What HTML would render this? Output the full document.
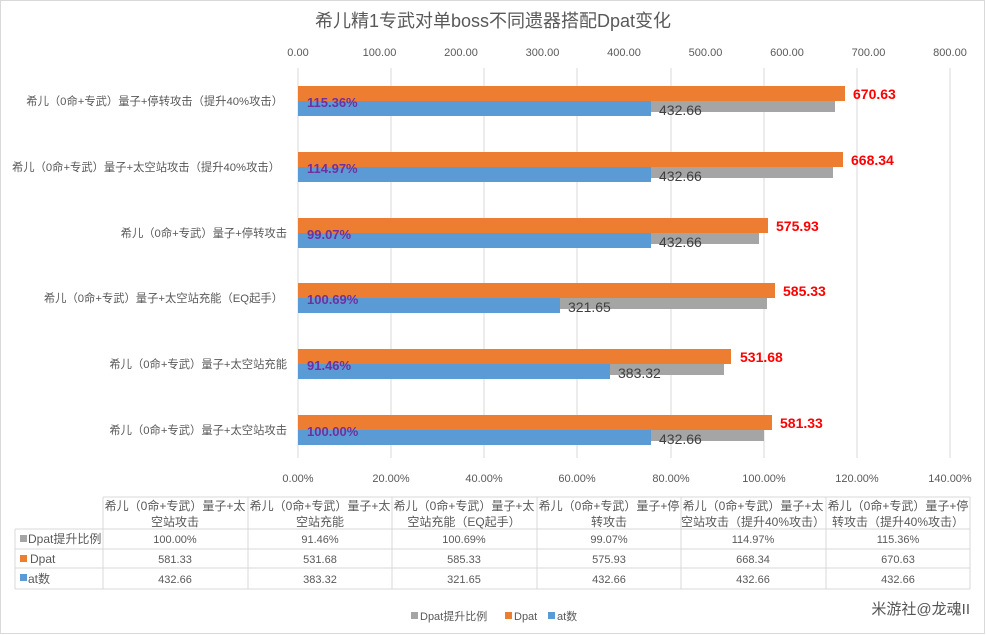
<!DOCTYPE html>
<html><head><meta charset="utf-8"><style>
body{margin:0;background:#fff;}
svg{display:block;font-family:"Liberation Sans","Noto Sans CJK SC",sans-serif;}
</style></head><body>
<svg width="986" height="635" xmlns="http://www.w3.org/2000/svg">
<rect x="0.5" y="0.5" width="984" height="633" fill="#fff" stroke="#d9d9d9"/>
<text x="493" y="27" text-anchor="middle" font-size="18" fill="#595959">希儿精1专武对单boss不同遗器搭配Dpat变化</text>
<g stroke="#d9d9d9" stroke-width="1">
<line x1="298" y1="68" x2="298" y2="458"/><line x1="391" y1="68" x2="391" y2="458"/><line x1="484" y1="68" x2="484" y2="458"/><line x1="577" y1="68" x2="577" y2="458"/><line x1="671" y1="68" x2="671" y2="458"/><line x1="764" y1="68" x2="764" y2="458"/><line x1="857" y1="68" x2="857" y2="458"/><line x1="950" y1="68" x2="950" y2="458"/>
</g>
<g font-size="11" fill="#595959" text-anchor="middle">
<text x="298" y="56">0.00</text><text x="379.5" y="56">100.00</text><text x="461" y="56">200.00</text><text x="542.5" y="56">300.00</text><text x="624" y="56">400.00</text><text x="705.5" y="56">500.00</text><text x="787" y="56">600.00</text><text x="868.5" y="56">700.00</text><text x="950" y="56">800.00</text>
<text x="298" y="482">0.00%</text><text x="391" y="482">20.00%</text><text x="484" y="482">40.00%</text><text x="577" y="482">60.00%</text><text x="671" y="482">80.00%</text><text x="764" y="482">100.00%</text><text x="857" y="482">120.00%</text><text x="950" y="482">140.00%</text>
</g>
<g>
<g transform="translate(0,0)">
<rect x="298" y="101" width="537" height="11" fill="#a5a5a5"/><rect x="298" y="86" width="547" height="15" fill="#ed7d31"/><rect x="298" y="101" width="353" height="15" fill="#5b9bd5"/>
<text x="659" y="115" font-size="14" fill="#404040">432.66</text><text x="853" y="99" font-size="14" font-weight="bold" fill="#ff0000">670.63</text><text x="307" y="107" font-size="13" font-weight="bold" fill="#7030a0">115.36%</text>
<text x="283" y="105" font-size="11.3" fill="#595959" text-anchor="end">希儿（0命+专武）量子+停转攻击（提升40%攻击）</text></g>
<g transform="translate(0,66)">
<rect x="298" y="101" width="535" height="11" fill="#a5a5a5"/><rect x="298" y="86" width="545" height="15" fill="#ed7d31"/><rect x="298" y="101" width="353" height="15" fill="#5b9bd5"/>
<text x="659" y="115" font-size="14" fill="#404040">432.66</text><text x="851" y="99" font-size="14" font-weight="bold" fill="#ff0000">668.34</text><text x="307" y="107" font-size="13" font-weight="bold" fill="#7030a0">114.97%</text>
<text x="280" y="105" font-size="11.3" fill="#595959" text-anchor="end">希儿（0命+专武）量子+太空站攻击（提升40%攻击）</text></g>
<g transform="translate(0,132)">
<rect x="298" y="101" width="461" height="11" fill="#a5a5a5"/><rect x="298" y="86" width="470" height="15" fill="#ed7d31"/><rect x="298" y="101" width="353" height="15" fill="#5b9bd5"/>
<text x="659" y="115" font-size="14" fill="#404040">432.66</text><text x="776" y="99" font-size="14" font-weight="bold" fill="#ff0000">575.93</text><text x="307" y="107" font-size="13" font-weight="bold" fill="#7030a0">99.07%</text>
<text x="287" y="105" font-size="11.3" fill="#595959" text-anchor="end">希儿（0命+专武）量子+停转攻击</text></g>
<g transform="translate(0,197)">
<rect x="298" y="101" width="469" height="11" fill="#a5a5a5"/><rect x="298" y="86" width="477" height="15" fill="#ed7d31"/><rect x="298" y="101" width="262" height="15" fill="#5b9bd5"/>
<text x="568" y="115" font-size="14" fill="#404040">321.65</text><text x="783" y="99" font-size="14" font-weight="bold" fill="#ff0000">585.33</text><text x="307" y="107" font-size="13" font-weight="bold" fill="#7030a0">100.69%</text>
<text x="283" y="105" font-size="11.3" fill="#595959" text-anchor="end">希儿（0命+专武）量子+太空站充能（EQ起手）</text></g>
<g transform="translate(0,263)">
<rect x="298" y="101" width="426" height="11" fill="#a5a5a5"/><rect x="298" y="86" width="433" height="15" fill="#ed7d31"/><rect x="298" y="101" width="312" height="15" fill="#5b9bd5"/>
<text x="618" y="115" font-size="14" fill="#404040">383.32</text><text x="740" y="99" font-size="14" font-weight="bold" fill="#ff0000">531.68</text><text x="307" y="107" font-size="13" font-weight="bold" fill="#7030a0">91.46%</text>
<text x="287" y="105" font-size="11.3" fill="#595959" text-anchor="end">希儿（0命+专武）量子+太空站充能</text></g>
<g transform="translate(0,329)">
<rect x="298" y="101" width="466" height="11" fill="#a5a5a5"/><rect x="298" y="86" width="474" height="15" fill="#ed7d31"/><rect x="298" y="101" width="353" height="15" fill="#5b9bd5"/>
<text x="659" y="115" font-size="14" fill="#404040">432.66</text><text x="780" y="99" font-size="14" font-weight="bold" fill="#ff0000">581.33</text><text x="307" y="107" font-size="13" font-weight="bold" fill="#7030a0">100.00%</text>
<text x="287" y="105" font-size="11.3" fill="#595959" text-anchor="end">希儿（0命+专武）量子+太空站攻击</text></g>
</g>
<g stroke="#d9d9d9" stroke-width="1" fill="none">
<line x1="103" y1="497" x2="970" y2="497"/><line x1="15" y1="529" x2="970" y2="529"/><line x1="15" y1="549" x2="970" y2="549"/><line x1="15" y1="568" x2="970" y2="568"/><line x1="15" y1="589" x2="970" y2="589"/>
<line x1="15" y1="529" x2="15" y2="589"/><line x1="103" y1="497" x2="103" y2="589"/><line x1="248" y1="497" x2="248" y2="589"/><line x1="392" y1="497" x2="392" y2="589"/><line x1="537" y1="497" x2="537" y2="589"/><line x1="681" y1="497" x2="681" y2="589"/><line x1="826" y1="497" x2="826" y2="589"/><line x1="970" y1="497" x2="970" y2="589"/>
</g>
<g font-size="12" fill="#595959" text-anchor="middle">
<text x="175" y="510">希儿（0命+专武）量子+太</text><text x="175" y="526">空站攻击</text>
<text x="320" y="510">希儿（0命+专武）量子+太</text><text x="320" y="526">空站充能</text>
<text x="464" y="510">希儿（0命+专武）量子+太</text><text x="464" y="526">空站充能（EQ起手）</text>
<text x="609" y="510">希儿（0命+专武）量子+停</text><text x="609" y="526">转攻击</text>
<text x="753" y="510">希儿（0命+专武）量子+太</text><text x="753" y="526">空站攻击（提升40%攻击）</text>
<text x="898" y="510">希儿（0命+专武）量子+停</text><text x="898" y="526">转攻击（提升40%攻击）</text>
<g font-size="11">
<text x="175" y="543">100.00%</text><text x="320" y="543">91.46%</text><text x="464" y="543">100.69%</text><text x="609" y="543">99.07%</text><text x="753" y="543">114.97%</text><text x="898" y="543">115.36%</text>
<text x="175" y="563">581.33</text><text x="320" y="563">531.68</text><text x="464" y="563">585.33</text><text x="609" y="563">575.93</text><text x="753" y="563">668.34</text><text x="898" y="563">670.63</text>
<text x="175" y="583">432.66</text><text x="320" y="583">383.32</text><text x="464" y="583">321.65</text><text x="609" y="583">432.66</text><text x="753" y="583">432.66</text><text x="898" y="583">432.66</text>
</g></g>
<g font-size="12" fill="#595959">
<rect x="20" y="535" width="7" height="7" fill="#a5a5a5"/><text x="28" y="543">Dpat提升比例</text>
<rect x="20" y="555" width="7" height="7" fill="#ed7d31"/><text x="30" y="563">Dpat</text>
<rect x="20" y="574" width="7" height="7" fill="#5b9bd5"/><text x="28" y="583">at数</text>
<rect x="411" y="612" width="7" height="7" fill="#a5a5a5"/><text x="420" y="620" font-size="11">Dpat提升比例</text>
<rect x="505" y="612" width="7" height="7" fill="#ed7d31"/><text x="514" y="620" font-size="11">Dpat</text>
<rect x="548" y="612" width="7" height="7" fill="#5b9bd5"/><text x="557" y="620" font-size="11">at数</text>
</g>
<text x="970" y="614" font-size="15" fill="#555" text-anchor="end">米游社@龙魂II</text>
</svg>
</body></html>
